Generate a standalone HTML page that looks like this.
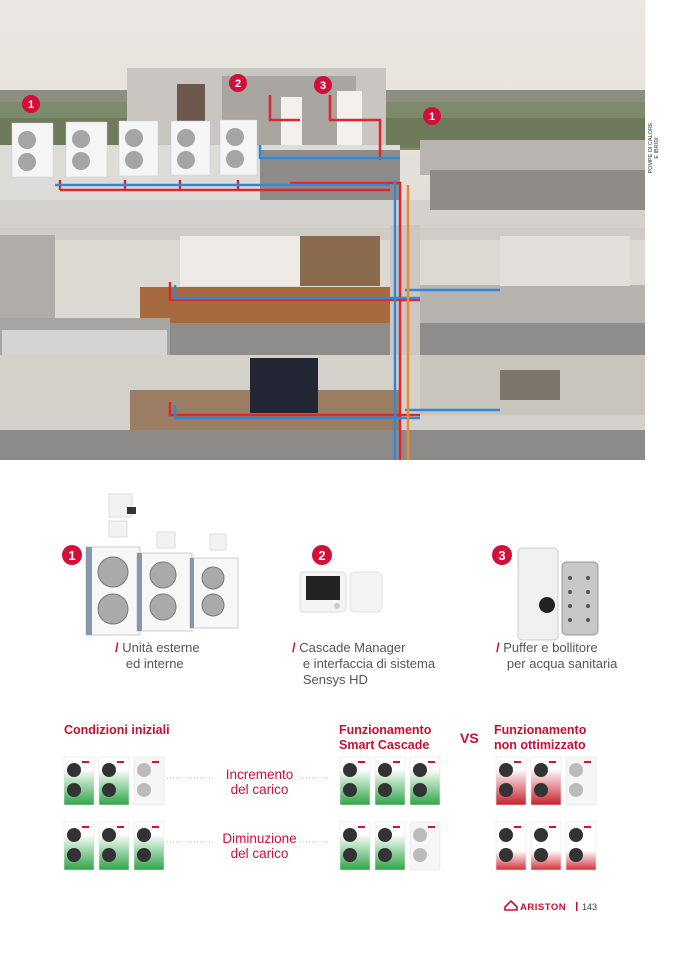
<!DOCTYPE html>
<html><head><meta charset="utf-8"><style>
body{margin:0;width:677px;height:958px;background:#fff;position:relative;overflow:hidden;font-family:"Liberation Sans",sans-serif}
.t{position:absolute;font-size:13px;color:#555;line-height:16px}
.s{color:#d0103a;font-weight:bold}
.h{position:absolute;color:#c8102e;font-weight:bold;font-size:12.5px;line-height:15px}
.r{position:absolute;color:#d0103a;font-size:13.5px;line-height:15px;text-align:center}
.side{position:absolute;left:648px;top:118px;width:20px;height:60px}
</style></head><body>
<svg width="677" height="958" style="position:absolute;left:0;top:0">
<defs>
<linearGradient id="sky" x1="0" y1="0" x2="0" y2="1"><stop offset="0" stop-color="#ebe7e2"/><stop offset="1" stop-color="#d8d2c8"/></linearGradient>
<linearGradient id="gr" x1="0" y1="0" x2="0" y2="1"><stop offset="0.25" stop-color="#fff"/><stop offset="1" stop-color="#2fa548"/></linearGradient>
<linearGradient id="rd" x1="0" y1="0" x2="0" y2="1"><stop offset="0.25" stop-color="#fff"/><stop offset="1" stop-color="#c8202a"/></linearGradient>
<linearGradient id="rdl" x1="0" y1="0" x2="0" y2="1"><stop offset="0.6" stop-color="#fff"/><stop offset="1" stop-color="#d23038"/></linearGradient>
</defs>
<!-- photo -->
<rect x="0" y="0" width="645" height="460" fill="url(#sky)"/>
<rect x="0" y="90" width="645" height="60" fill="#7e8a6c"/>
<rect x="0" y="90" width="645" height="12" fill="#8d9080"/>
<rect x="0" y="118" width="645" height="30" fill="#6f7a5a"/>
<rect x="127" y="68" width="259" height="80" fill="#c9c6c2"/>
<rect x="222" y="76" width="134" height="72" fill="#a9a5a1"/>
<rect x="177" y="84" width="28" height="45" fill="#6d5850"/>
<rect x="281" y="97" width="21" height="50" fill="#f3f1ee"/>
<rect x="337" y="91" width="25" height="55" fill="#f3f1ee"/>
<rect x="0" y="145" width="400" height="60" fill="#dedcd8"/>
<rect x="260" y="150" width="140" height="50" fill="#8e8c89"/>
<rect x="0" y="200" width="645" height="28" fill="#d5d2ce"/>
<rect x="420" y="140" width="225" height="35" fill="#b8b5b0"/>
<rect x="430" y="170" width="215" height="40" fill="#8e8b88"/>
<g fill="#f5f5f5" stroke="#ccc" stroke-width="0.5">
<rect x="12" y="123" width="41" height="54"/><rect x="66" y="122" width="41" height="55"/><rect x="119" y="121" width="39" height="55"/><rect x="171" y="121" width="39" height="54"/><rect x="220" y="120" width="37" height="55"/>
</g>
<g fill="#a5a5a5">
<circle cx="27" cy="140" r="9"/><circle cx="27" cy="162" r="9"/><circle cx="81" cy="139" r="9"/><circle cx="81" cy="161" r="9"/><circle cx="134" cy="138" r="9"/><circle cx="134" cy="160" r="9"/><circle cx="186" cy="138" r="9"/><circle cx="186" cy="160" r="9"/><circle cx="235" cy="137" r="9"/><circle cx="235" cy="159" r="9"/>
</g>
<!-- floor 1 -->
<rect x="0" y="228" width="645" height="95" fill="#dcd8d2"/>
<rect x="0" y="228" width="645" height="12" fill="#cfcbc5"/>
<rect x="140" y="287" width="260" height="36" fill="#a76a3e"/>
<rect x="180" y="236" width="120" height="50" fill="#eeeae5"/>
<rect x="300" y="236" width="80" height="50" fill="#8a6a4c"/>
<rect x="410" y="285" width="235" height="38" fill="#b7b4b0"/>
<rect x="500" y="236" width="130" height="50" fill="#e2dfdb"/>
<rect x="0" y="235" width="55" height="90" fill="#b0ada8"/>
<rect x="0" y="323" width="645" height="32" fill="#8f8d8b"/>
<rect x="0" y="318" width="170" height="40" fill="#a7a5a2"/>
<rect x="2" y="330" width="165" height="38" fill="#d6d4d2"/>
<rect x="390" y="225" width="30" height="235" fill="#cbc8c4"/>
<!-- floor 2 -->
<rect x="0" y="355" width="645" height="105" fill="#d4d0ca"/>
<rect x="130" y="390" width="270" height="45" fill="#9a7d62"/>
<rect x="250" y="358" width="68" height="55" fill="#222635"/>
<rect x="0" y="430" width="645" height="30" fill="#8d8b89"/>
<rect x="420" y="355" width="225" height="60" fill="#c9c4bc"/>
<rect x="500" y="370" width="60" height="30" fill="#7d766c"/>
<!-- pipes -->
<g stroke="#e0262a" stroke-width="2.5" fill="none">
<path d="M60 190 H390 M60 190 V180 M125 190 V180 M180 190 V180 M238 190 V180 M290 183 H400 V460"/>
<path d="M270 95 V120 H300 M330 95 V120 H380 V160"/>
<path d="M170 282 V300 H420 M170 402 V415 H420"/>
</g>
<g stroke="#2f88d8" stroke-width="2.5" fill="none">
<path d="M55 185 H390 M395 180 V460 M260 145 V158 H400"/>
<path d="M175 285 V298 H420 M175 405 V418 H420 M405 290 H500 M405 410 H500"/>
</g>
<path d="M408 185 V460" stroke="#f08a2a" stroke-width="2.5" fill="none"/>
<!-- product 1 -->
<g fill="#f2f2f2" stroke="#ddd"><rect x="109" y="494" width="23" height="23"/><rect x="109" y="521" width="18" height="16"/><rect x="157" y="532" width="18" height="16"/><rect x="210" y="534" width="16" height="16"/></g>
<rect x="127" y="507" width="9" height="7" fill="#333"/>
<g fill="#f7f7f7" stroke="#ccc"><rect x="86" y="547" width="54" height="88"/><rect x="137" y="553" width="55" height="78"/><rect x="190" y="558" width="48" height="70"/></g>
<g fill="#8797ad"><rect x="86" y="547" width="6" height="88"/><rect x="137" y="553" width="5" height="78"/><rect x="190" y="558" width="4" height="70"/></g>
<g fill="#aaa" stroke="#777"><circle cx="113" cy="572" r="15"/><circle cx="113" cy="609" r="15"/><circle cx="163" cy="575" r="13"/><circle cx="163" cy="607" r="13"/><circle cx="213" cy="578" r="11"/><circle cx="213" cy="605" r="11"/></g>
<!-- product 2 -->
<rect x="300" y="572" width="46" height="40" rx="4" fill="#f4f4f4" stroke="#ddd"/>
<rect x="306" y="576" width="34" height="24" fill="#222"/>
<circle cx="337" cy="606" r="3" fill="#ccc"/>
<rect x="350" y="572" width="32" height="40" rx="6" fill="#f4f4f4" stroke="#e3e3e3"/>
<!-- product 3 -->
<rect x="518" y="548" width="40" height="92" rx="4" fill="#f0f0f0" stroke="#ccc"/>
<circle cx="547" cy="605" r="8" fill="#222"/>
<rect x="562" y="562" width="36" height="73" rx="5" fill="#c8c8c8" stroke="#999"/>
<g fill="#555"><circle cx="570" cy="578" r="2"/><circle cx="588" cy="578" r="2"/><circle cx="570" cy="592" r="2"/><circle cx="588" cy="592" r="2"/><circle cx="570" cy="606" r="2"/><circle cx="588" cy="606" r="2"/><circle cx="570" cy="620" r="2"/><circle cx="588" cy="620" r="2"/></g>
<!-- badges -->
<g fill="#d0103a"><circle cx="31" cy="104" r="9"/><circle cx="238" cy="83" r="9"/><circle cx="323" cy="85" r="9"/><circle cx="432" cy="116" r="9"/>
<circle cx="72" cy="555" r="10"/><circle cx="322" cy="555" r="10"/><circle cx="502" cy="555" r="10"/></g>
<g fill="#fff" font-size="11" font-weight="bold" text-anchor="middle" font-family="Liberation Sans"><text x="31" y="108">1</text><text x="238" y="87">2</text><text x="323" y="89">3</text><text x="432" y="120">1</text>
<text x="72" y="560" font-size="13">1</text><text x="322" y="560" font-size="13">2</text><text x="502" y="560" font-size="13">3</text></g>
<g stroke="#bbb" stroke-dasharray="1 2"><path d="M167 778H215M300 778H330M167 842H215M300 842H330"/></g>
</svg>
<div class="side"><div style="transform:rotate(-90deg);transform-origin:0 0;position:absolute;left:0;top:60px;width:60px;font-size:5.5px;color:#333;text-align:center;line-height:6px">POMPE DI CALORE<br>E IBRIDI</div></div>

<div class="t" style="left:115px;top:640px"><span class="s">/</span> Unità esterne<br>&nbsp;&nbsp;&nbsp;ed interne</div>
<div class="t" style="left:292px;top:640px"><span class="s">/</span> Cascade Manager<br>&nbsp;&nbsp;&nbsp;e interfaccia di sistema<br>&nbsp;&nbsp;&nbsp;Sensys HD</div>
<div class="t" style="left:496px;top:640px"><span class="s">/</span> Puffer e bollitore<br>&nbsp;&nbsp;&nbsp;per acqua sanitaria</div>

<div class="h" style="left:64px;top:723px">Condizioni iniziali</div>
<div class="h" style="left:339px;top:723px">Funzionamento<br>Smart Cascade</div>
<div class="h" style="left:460px;top:731px;font-size:14px">VS</div>
<div class="h" style="left:494px;top:723px">Funzionamento<br>non ottimizzato</div>
<div class="r" style="left:212px;top:767px;width:95px">Incremento<br>del carico</div>
<div class="r" style="left:212px;top:831px;width:95px">Diminuzione<br>del carico</div>

<svg width="677" height="958" style="position:absolute;left:0;top:0">
<g stroke="#e4e4e4" stroke-width="0.6">
<rect x="64" y="757" width="30" height="48" fill="url(#gr)"/><rect x="99" y="757" width="30" height="48" fill="url(#gr)"/><rect x="134" y="757" width="30" height="48" fill="#f6f6f6"/>
<rect x="340" y="757" width="30" height="48" fill="url(#gr)"/><rect x="375" y="757" width="30" height="48" fill="url(#gr)"/><rect x="410" y="757" width="30" height="48" fill="url(#gr)"/>
<rect x="496" y="757" width="30" height="48" fill="url(#rd)"/><rect x="531" y="757" width="30" height="48" fill="url(#rd)"/><rect x="566" y="757" width="30" height="48" fill="#f6f6f6"/>
<rect x="64" y="822" width="30" height="48" fill="url(#gr)"/><rect x="99" y="822" width="30" height="48" fill="url(#gr)"/><rect x="134" y="822" width="30" height="48" fill="url(#gr)"/>
<rect x="340" y="822" width="30" height="48" fill="url(#gr)"/><rect x="375" y="822" width="30" height="48" fill="url(#gr)"/><rect x="410" y="822" width="30" height="48" fill="#f6f6f6"/>
<rect x="496" y="822" width="30" height="48" fill="url(#rdl)"/><rect x="531" y="822" width="30" height="48" fill="url(#rdl)"/><rect x="566" y="822" width="30" height="48" fill="url(#rdl)"/>
</g>
<g fill="#333">
<circle cx="74" cy="770" r="7"/><circle cx="74" cy="790" r="7"/><circle cx="109" cy="770" r="7"/><circle cx="109" cy="790" r="7"/>
<circle cx="350" cy="770" r="7"/><circle cx="350" cy="790" r="7"/><circle cx="385" cy="770" r="7"/><circle cx="385" cy="790" r="7"/><circle cx="420" cy="770" r="7"/><circle cx="420" cy="790" r="7"/>
<circle cx="506" cy="770" r="7"/><circle cx="506" cy="790" r="7"/><circle cx="541" cy="770" r="7"/><circle cx="541" cy="790" r="7"/>
<circle cx="74" cy="835" r="7"/><circle cx="74" cy="855" r="7"/><circle cx="109" cy="835" r="7"/><circle cx="109" cy="855" r="7"/><circle cx="144" cy="835" r="7"/><circle cx="144" cy="855" r="7"/>
<circle cx="350" cy="835" r="7"/><circle cx="350" cy="855" r="7"/><circle cx="385" cy="835" r="7"/><circle cx="385" cy="855" r="7"/>
<circle cx="506" cy="835" r="7"/><circle cx="506" cy="855" r="7"/><circle cx="541" cy="835" r="7"/><circle cx="541" cy="855" r="7"/><circle cx="576" cy="835" r="7"/><circle cx="576" cy="855" r="7"/>
</g>
<g fill="#bbb"><circle cx="144" cy="770" r="7"/><circle cx="144" cy="790" r="7"/><circle cx="576" cy="770" r="7"/><circle cx="576" cy="790" r="7"/><circle cx="420" cy="835" r="7"/><circle cx="420" cy="855" r="7"/></g>
<g fill="#d0103a"><rect x="82" y="761" width="7" height="2"/><rect x="117" y="761" width="7" height="2"/><rect x="152" y="761" width="7" height="2"/><rect x="358" y="761" width="7" height="2"/><rect x="393" y="761" width="7" height="2"/><rect x="428" y="761" width="7" height="2"/><rect x="514" y="761" width="7" height="2"/><rect x="549" y="761" width="7" height="2"/><rect x="584" y="761" width="7" height="2"/>
<rect x="82" y="826" width="7" height="2"/><rect x="117" y="826" width="7" height="2"/><rect x="152" y="826" width="7" height="2"/><rect x="358" y="826" width="7" height="2"/><rect x="393" y="826" width="7" height="2"/><rect x="428" y="826" width="7" height="2"/><rect x="514" y="826" width="7" height="2"/><rect x="549" y="826" width="7" height="2"/><rect x="584" y="826" width="7" height="2"/></g>
<path d="M505 907 L511 901 L517 907 V910 H505 Z" fill="none" stroke="#c8102e" stroke-width="1.6"/>
<text x="520" y="910" font-size="9.5" font-weight="bold" fill="#c8102e" font-family="Liberation Sans" letter-spacing="0.5">ARISTON</text>
<rect x="576" y="902" width="1.5" height="9" fill="#c8102e"/>
<text x="582" y="910" font-size="9" fill="#444" font-family="Liberation Sans">143</text>
</svg>
</body></html>
